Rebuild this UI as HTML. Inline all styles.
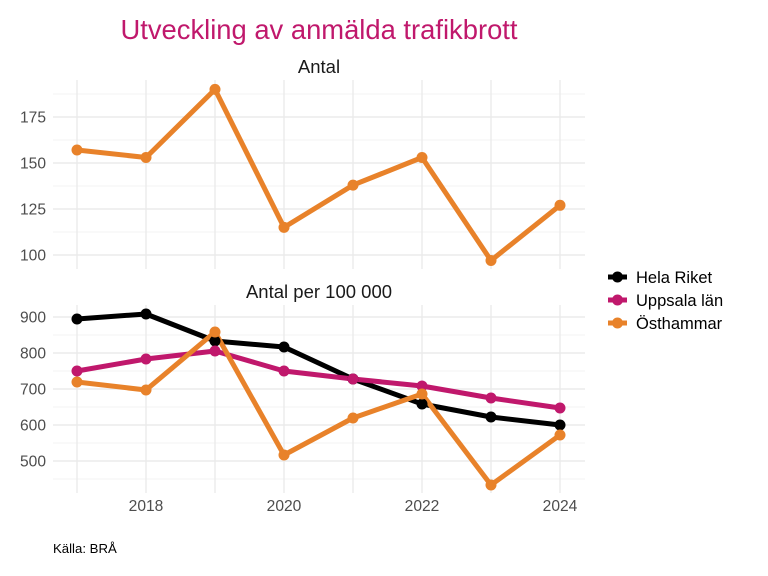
<!DOCTYPE html>
<html><head><meta charset="utf-8"><style>
html,body{margin:0;padding:0;background:#fff;}
svg{display:block;font-family:"Liberation Sans",Arial,sans-serif;}
</style></head><body>
<svg width="768" height="576" viewBox="0 0 768 576" xmlns="http://www.w3.org/2000/svg">
<rect width="768" height="576" fill="#fff"/>
<text x="319" y="39" text-anchor="middle" font-size="27.4" fill="#C0186C" textLength="397" lengthAdjust="spacingAndGlyphs">Utveckling av anmälda trafikbrott</text>
<text x="319" y="73" text-anchor="middle" font-size="18.5" fill="#1a1a1a">Antal</text>
<text x="319" y="298" text-anchor="middle" font-size="18.5" fill="#1a1a1a">Antal per 100 000</text>

<!-- top panel grid -->
<g stroke="#F3F3F3" stroke-width="1">
<line x1="53" x2="585" y1="94" y2="94"/><line x1="53" x2="585" y1="140" y2="140"/><line x1="53" x2="585" y1="186" y2="186"/><line x1="53" x2="585" y1="232" y2="232"/>
<line x1="53" x2="585" y1="335" y2="335"/><line x1="53" x2="585" y1="371" y2="371"/><line x1="53" x2="585" y1="407" y2="407"/><line x1="53" x2="585" y1="443" y2="443"/><line x1="53" x2="585" y1="479" y2="479"/>
</g>
<g stroke="#EBEBEB" stroke-width="1.4">
<line x1="53" x2="585" y1="117" y2="117"/><line x1="53" x2="585" y1="163" y2="163"/><line x1="53" x2="585" y1="209" y2="209"/><line x1="53" x2="585" y1="255" y2="255"/>
<line x1="77" x2="77" y1="80" y2="269"/><line x1="146" x2="146" y1="80" y2="269"/><line x1="215" x2="215" y1="80" y2="269"/><line x1="284" x2="284" y1="80" y2="269"/><line x1="353" x2="353" y1="80" y2="269"/><line x1="422" x2="422" y1="80" y2="269"/><line x1="491" x2="491" y1="80" y2="269"/><line x1="560" x2="560" y1="80" y2="269"/>
<line x1="53" x2="585" y1="317" y2="317"/><line x1="53" x2="585" y1="353" y2="353"/><line x1="53" x2="585" y1="389" y2="389"/><line x1="53" x2="585" y1="425" y2="425"/><line x1="53" x2="585" y1="461" y2="461"/>
<line x1="77" x2="77" y1="305" y2="493"/><line x1="146" x2="146" y1="305" y2="493"/><line x1="215" x2="215" y1="305" y2="493"/><line x1="284" x2="284" y1="305" y2="493"/><line x1="353" x2="353" y1="305" y2="493"/><line x1="422" x2="422" y1="305" y2="493"/><line x1="491" x2="491" y1="305" y2="493"/><line x1="560" x2="560" y1="305" y2="493"/>
</g>

<!-- y tick labels -->
<g font-size="15.6" fill="#4D4D4D" text-anchor="end">
<text x="46" y="122.5">175</text><text x="46" y="168.5">150</text><text x="46" y="214.5">125</text><text x="46" y="260.5">100</text>
<text x="46" y="322.5">900</text><text x="46" y="358.5">800</text><text x="46" y="394.5">700</text><text x="46" y="430.5">600</text><text x="46" y="466.5">500</text>
</g>
<g font-size="15.6" fill="#4D4D4D" text-anchor="middle">
<text x="146" y="511">2018</text><text x="284" y="511">2020</text><text x="422" y="511">2022</text><text x="560" y="511">2024</text>
</g>

<!-- top series -->
<polyline fill="none" stroke="#E8822A" stroke-width="5" stroke-linejoin="round" points="77,150 146,157.5 215,89.4 284,227.4 353,185.1 422,157.5 491,260.5 560,205.3"/>
<g fill="#E8822A">
<circle cx="77" cy="150" r="5.5"/><circle cx="146" cy="157.5" r="5.5"/><circle cx="215" cy="89.4" r="5.5"/><circle cx="284" cy="227.4" r="5.5"/><circle cx="353" cy="185.1" r="5.5"/><circle cx="422" cy="157.5" r="5.5"/><circle cx="491" cy="260.5" r="5.5"/><circle cx="560" cy="205.3" r="5.5"/>
</g>

<!-- bottom series lines -->
<polyline fill="none" stroke="#000" stroke-width="5" stroke-linejoin="round" points="77,319 146,314 215,341 284,347 353,379 422,404 491,417 560,425"/>
<polyline fill="none" stroke="#C0186C" stroke-width="5" stroke-linejoin="round" points="77,371 146,359 215,351 284,371 353,379 422,386 491,398 560,408"/>
<polyline fill="none" stroke="#E8822A" stroke-width="5" stroke-linejoin="round" points="77,382 146,390 215,332 284,455 353,418 422,394 491,485 560,435"/>
<g fill="#000">
<circle cx="77" cy="319" r="5.5"/><circle cx="146" cy="314" r="5.5"/><circle cx="215" cy="341" r="5.5"/><circle cx="284" cy="347" r="5.5"/><circle cx="353" cy="379" r="5.5"/><circle cx="422" cy="404" r="5.5"/><circle cx="491" cy="417" r="5.5"/><circle cx="560" cy="425" r="5.5"/>
</g>
<g fill="#C0186C">
<circle cx="77" cy="371" r="5.5"/><circle cx="146" cy="359" r="5.5"/><circle cx="215" cy="351" r="5.5"/><circle cx="284" cy="371" r="5.5"/><circle cx="353" cy="379" r="5.5"/><circle cx="422" cy="386" r="5.5"/><circle cx="491" cy="398" r="5.5"/><circle cx="560" cy="408" r="5.5"/>
</g>
<g fill="#E8822A">
<circle cx="77" cy="382" r="5.5"/><circle cx="146" cy="390" r="5.5"/><circle cx="215" cy="332" r="5.5"/><circle cx="284" cy="455" r="5.5"/><circle cx="353" cy="418" r="5.5"/><circle cx="422" cy="394" r="5.5"/><circle cx="491" cy="485" r="5.5"/><circle cx="560" cy="435" r="5.5"/>
</g>

<!-- legend -->
<g stroke-width="5">
<line x1="608" x2="627" y1="277" y2="277" stroke="#000"/>
<line x1="608" x2="627" y1="300" y2="300" stroke="#C0186C"/>
<line x1="608" x2="627" y1="323" y2="323" stroke="#E8822A"/>
</g>
<circle cx="617.5" cy="277" r="5.5" fill="#000"/>
<circle cx="617.5" cy="300" r="5.5" fill="#C0186C"/>
<circle cx="617.5" cy="323" r="5.5" fill="#E8822A"/>
<g font-size="16.5" fill="#000">
<text x="636" y="283">Hela Riket</text>
<text x="636" y="306">Uppsala län</text>
<text x="636" y="329">Östhammar</text>
</g>

<text x="53" y="553" font-size="13.2" fill="#000">Källa: BRÅ</text>
</svg>
</body></html>
